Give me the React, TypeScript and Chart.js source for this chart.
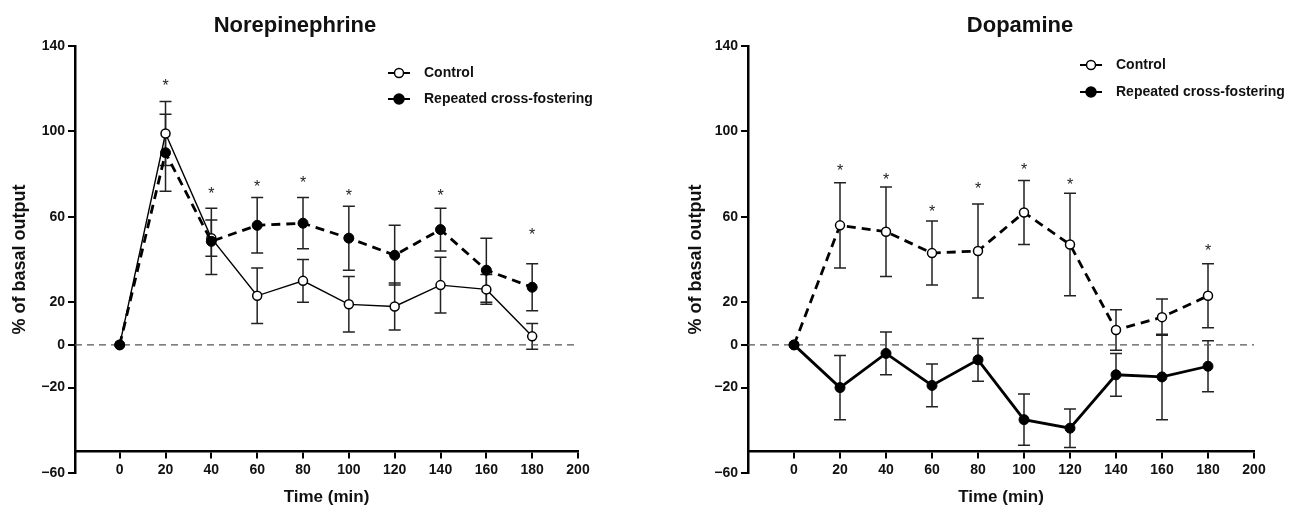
import React, { useEffect, useRef } from 'react';
import { Chart, registerables } from 'chart.js';

Chart.register(...registerables);

const FONT = '"Liberation Sans", Arial, Helvetica, sans-serif';

// ---- data ----
const times = [0, 20, 40, 60, 80, 100, 120, 140, 160, 180];
const xTicks = [0, 20, 40, 60, 80, 100, 120, 140, 160, 180, 200];
const yTicks = [140, 100, 60, 20, 0, -20, -60];

// Norepinephrine
const neControl = [0, 99, 50, 23, 30, 19, 18, 28, 26, 4];
const neControlErr = [0, 15, 8.5, 13, 10, 13, 11, 13, 7, 6];
const neRcf = [0, 90, 48.5, 56, 57, 50, 42, 54, 35, 27];
const neRcfErr = [0, 18, 15.5, 13, 12, 15, 14, 10, 15, 11];
const neStarTimes = [20, 40, 60, 80, 100, 140, 180];
const neStarLevels = [123, 72.5, 76, 77.5, 71.5, 71.5, 53.5];

// Dopamine
const daControl = [0, 56, 53, 43, 44, 62, 47, 7, 13, 23];
const daControlErr = [0, 20, 21, 15, 22, 15, 24, 9.5, 8.5, 15];
const daRcf = [0, -20, -4, -19, -7, -35, -39, -14, -15, -10];
const daRcfErr = [0, 15, 10, 10, 10, 12, 9, 10, 20, 12];
const daStarTimes = [20, 40, 60, 80, 100, 120, 180];
const daStarLevels = [83.5, 79, 64, 75, 84, 77, 46];

const seriesLabels = ['Control', 'Repeated cross-fostering'];

type PanelSpec = {
  title: string;
  titleX: number;
  control: number[];
  controlErr: number[];
  rcf: number[];
  rcfErr: number[];
  starTimes: number[];
  starLevels: number[];
  controlDashed: boolean;
  xMin: number;
  yAxisWidth: number;
  yTitlePad: number;
  padRight: number;
  legendX: number;
  legendY: number[];
};

function makeConfig(p: PanelSpec): any {
  const thin = 1.4;
  const thick = 2.8;
  const dash = [9, 6];

  const decor = {
    id: 'decor',
    beforeDatasetsDraw(chart: any) {
      const ctx = chart.ctx;
      const xs = chart.scales.x;
      const ys = chart.scales.y;
      const sets = [
        { v: p.control, e: p.controlErr },
        { v: p.rcf, e: p.rcfErr },
      ];
      ctx.save();
      ctx.strokeStyle = '#222';
      ctx.lineWidth = 1.5;
      sets.forEach((s) => {
        times.forEach((t, i) => {
          const e = s.e[i];
          if (!e) return;
          const px = xs.getPixelForValue(t);
          const top = ys.getPixelForValue(s.v[i] + e);
          const bot = ys.getPixelForValue(s.v[i] - e);
          ctx.beginPath();
          ctx.moveTo(px, top);
          ctx.lineTo(px, bot);
          ctx.moveTo(px - 6, top);
          ctx.lineTo(px + 6, top);
          ctx.moveTo(px - 6, bot);
          ctx.lineTo(px + 6, bot);
          ctx.stroke();
        });
      });
      ctx.restore();
    },
    afterDraw(chart: any) {
      const ctx = chart.ctx;
      const xs = chart.scales.x;
      const ys = chart.scales.y;
      ctx.save();
      // title
      ctx.fillStyle = '#111';
      ctx.font = `bold 22px ${FONT}`;
      ctx.textAlign = 'center';
      ctx.textBaseline = 'alphabetic';
      ctx.fillText(p.title, p.titleX, 32);
      // significance stars
      ctx.font = `16px ${FONT}`;
      ctx.fillStyle = '#222';
      p.starTimes.forEach((t, i) => {
        const px = xs.getPixelForValue(t);
        const py = ys.getPixelForValue(p.starLevels[i]);
        ctx.fillText('*', px, py + 9);
      });
      // legend
      const items = [
        { label: seriesLabels[0], fill: '#fff', r: 4.5 },
        { label: seriesLabels[1], fill: '#000', r: 5 },
      ];
      items.forEach((it, i) => {
        const y = p.legendY[i];
        const x0 = p.legendX;
        ctx.strokeStyle = '#000';
        ctx.lineWidth = 2;
        ctx.beginPath();
        ctx.moveTo(x0, y);
        ctx.lineTo(x0 + 22, y);
        ctx.stroke();
        ctx.beginPath();
        ctx.arc(x0 + 11, y, it.r, 0, Math.PI * 2);
        ctx.fillStyle = it.fill;
        ctx.fill();
        ctx.lineWidth = 1.5;
        ctx.stroke();
        ctx.fillStyle = '#111';
        ctx.font = `bold 14px ${FONT}`;
        ctx.textAlign = 'left';
        ctx.textBaseline = 'middle';
        ctx.fillText(it.label, x0 + 36, y);
      });
      ctx.restore();
    },
  };

  const tickFont = { family: FONT, size: 14, weight: 'bold' };

  return {
    type: 'line',
    data: {
      datasets: [
        {
          label: 'zero',
          data: [
            { x: p.xMin, y: 0 },
            { x: 200, y: 0 },
          ],
          borderColor: '#555',
          borderWidth: 1.4,
          borderDash: [7, 5],
          pointRadius: 0,
          order: 10,
        },
        {
          label: seriesLabels[0],
          data: times.map((t, i) => ({ x: t, y: p.control[i] })),
          borderColor: '#000',
          borderWidth: p.controlDashed ? thick : thin,
          borderDash: p.controlDashed ? dash : [],
          pointRadius: 4.5,
          pointBackgroundColor: '#fff',
          pointBorderColor: '#000',
          pointBorderWidth: 1.5,
          order: 2,
        },
        {
          label: seriesLabels[1],
          data: times.map((t, i) => ({ x: t, y: p.rcf[i] })),
          borderColor: '#000',
          borderWidth: thick,
          borderDash: p.controlDashed ? [] : dash,
          pointRadius: 5,
          pointBackgroundColor: '#000',
          pointBorderColor: '#000',
          pointBorderWidth: 1,
          order: 1,
        },
      ],
    },
    options: {
      responsive: false,
      animation: false,
      events: [],
      layout: { padding: { top: 46, left: 0, right: p.padRight, bottom: 35 } },
      plugins: {
        legend: { display: false },
        tooltip: { enabled: false },
        title: { display: false },
      },
      scales: {
        x: {
          type: 'linear',
          min: p.xMin,
          max: 200,
          position: { y: -50 },
          afterBuildTicks: (s: any) => {
            s.ticks = xTicks.map((v) => ({ value: v }));
          },
          afterFit: (s: any) => {
            s.height = 56;
          },
          grid: { drawOnChartArea: false, drawTicks: true, tickLength: 6, color: '#000', lineWidth: 2 },
          border: { display: true, color: '#000', width: 2.5 },
          ticks: { font: tickFont, color: '#111', padding: 4, maxRotation: 0, autoSkip: false },
          title: {
            display: true,
            text: 'Time (min)',
            font: { family: FONT, size: 17, weight: 'bold' },
            color: '#111',
            padding: { top: 0, bottom: 0 },
          },
        },
        y: {
          type: 'linear',
          position: 'left',
          min: -60,
          max: 140,
          afterBuildTicks: (s: any) => {
            s.ticks = yTicks.map((v) => ({ value: v }));
          },
          afterFit: (s: any) => {
            s.width = p.yAxisWidth;
          },
          grid: { drawOnChartArea: false, drawTicks: true, tickLength: 7, color: '#000', lineWidth: 2 },
          border: { display: true, color: '#000', width: 2.5 },
          ticks: {
            font: tickFont,
            color: '#111',
            padding: 3,
            autoSkip: false,
            callback: (v: number) => (v < 0 ? '\u2212' + Math.abs(v) : String(v)),
          },
          title: {
            display: true,
            text: '% of basal output',
            font: { family: FONT, size: 18, weight: 'bold' },
            color: '#111',
            padding: { top: p.yTitlePad, bottom: 0 },
          },
        },
      },
    },
    plugins: [decor],
  };
}

function Panel({ spec, left, width }: { spec: PanelSpec; left: number; width: number }) {
  const ref = useRef<HTMLCanvasElement>(null);
  const height = 508;
  useEffect(() => {
    const chart = new Chart(ref.current as HTMLCanvasElement, makeConfig(spec));
    return () => chart.destroy();
  }, [spec]);
  return (
    <div style={{ position: 'absolute', left, top: 0, width, height: 508, overflow: 'hidden' }}>
      <canvas ref={ref} width={width} height={height} style={{ display: 'block', width, height }} />
    </div>
  );
}

const nePanel: PanelSpec = {
  title: 'Norepinephrine',
  titleX: 295,
  control: neControl,
  controlErr: neControlErr,
  rcf: neRcf,
  rcfErr: neRcfErr,
  starTimes: neStarTimes,
  starLevels: neStarLevels,
  controlDashed: false,
  xMin: -19.5,
  yAxisWidth: 75,
  yTitlePad: 9.2,
  padRight: 62,
  legendX: 388,
  legendY: [73, 99],
};

const daPanel: PanelSpec = {
  title: 'Dopamine',
  titleX: 360,
  control: daControl,
  controlErr: daControlErr,
  rcf: daRcf,
  rcfErr: daRcfErr,
  starTimes: daStarTimes,
  starLevels: daStarLevels,
  controlDashed: true,
  xMin: -20,
  yAxisWidth: 88,
  yTitlePad: 25.2,
  padRight: 43,
  legendX: 420,
  legendY: [65, 92],
};

export default function App() {
  return (
    <div
      style={{
        position: 'absolute',
        left: 0,
        top: 0,
        width: 1297,
        height: 508,
        overflow: 'hidden',
        background: '#fff',
      }}
    >
      <Panel spec={nePanel} left={0} width={640} />
      <Panel spec={daPanel} left={660} width={637} />
    </div>
  );
}
